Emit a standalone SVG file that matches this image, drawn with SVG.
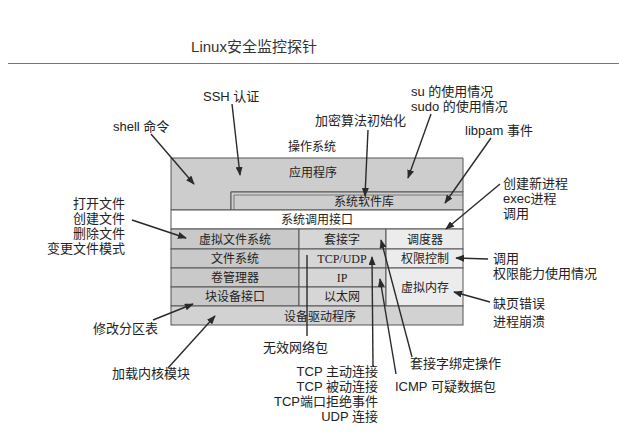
<svg xmlns="http://www.w3.org/2000/svg" width="619" height="435" viewBox="0 0 619 435">
<style>
.lbl{font-family:"Liberation Sans","Noto Sans CJK SC",sans-serif;font-size:13px;fill:#222}
.box{font-family:"Liberation Serif","Noto Sans CJK SC",serif;font-size:12px;fill:#222;text-anchor:middle}
.c{stroke:#555;stroke-width:1}
.dark{fill:#c9c9c9}
.mid{fill:#d6d6d6}
.light{fill:#ececec}
.white{fill:#ffffff}
.arr{stroke:#2a2a2a;stroke-width:1.4;fill:none;marker-end:url(#ah)}
.ln{stroke:#2a2a2a;stroke-width:1.4;fill:none}
</style>
<defs>
<marker id="ah" viewBox="0 0 10 10" refX="9" refY="5" markerUnits="userSpaceOnUse" markerWidth="9" markerHeight="7" orient="auto" preserveAspectRatio="none">
<path d="M0,0 L10,5 L0,10 z" fill="#2a2a2a"/>
</marker>
</defs>
<rect width="619" height="435" fill="#ffffff"/>
<g id="title">
<text x="254" y="52" text-anchor="middle" style="font-family:'Liberation Sans','Noto Sans CJK SC',sans-serif;font-size:15px;fill:#333">Linux安全监控探针</text>
<line x1="8" y1="63.5" x2="619" y2="63.5" stroke="#777" stroke-width="1.2"/>
</g>
<g id="os-label"><text class="box" x="312" y="151">操作系统</text></g>
<g id="app">
<path class="c" d="M171,158 H463 V192 H231 V210 H171 Z" style="fill:#cdcdcd"/>
<text class="box" x="313" y="177">应用程序</text>
</g>
<g id="syslib">
<rect class="c" x="231" y="192" width="232" height="18" style="fill:#cdcdcd"/>
<path d="M234,210 V195 H463" fill="none" stroke="#666" stroke-width="0.8"/>
<text class="box" x="364" y="206">系统软件库</text>
</g>
<g id="syscall">
<rect class="white c" x="171" y="210" width="292" height="19"/>
<text class="box" x="317" y="224">系统调用接口</text>
</g>
<g id="vfs"><rect class="dark c" x="171" y="229" width="128" height="20"/><text class="box" x="235" y="244">虚拟文件系统</text></g>
<g id="fs"><rect class="dark c" x="171" y="249" width="128" height="19"/><text class="box" x="235" y="263">文件系统</text></g>
<g id="volmgr"><rect class="dark c" x="171" y="268" width="128" height="19"/><text class="box" x="235" y="282">卷管理器</text></g>
<g id="blockdev"><rect class="dark c" x="171" y="287" width="128" height="19"/><text class="box" x="235" y="301">块设备接口</text></g>
<g id="socket"><rect class="mid c" x="299" y="229" width="87" height="20"/><text class="box" x="342" y="244">套接字</text></g>
<g id="tcpudp"><rect class="mid c" x="299" y="249" width="87" height="19"/><text class="box" x="342" y="263">TCP/UDP</text></g>
<g id="ip"><rect class="mid c" x="299" y="268" width="87" height="19"/><text class="box" x="342" y="282">IP</text></g>
<g id="ethernet"><rect class="mid c" x="299" y="287" width="87" height="19"/><text class="box" x="342" y="301">以太网</text></g>
<g id="scheduler"><rect class="light c" x="386" y="229" width="77" height="20"/><text class="box" x="425" y="244">调度器</text></g>
<g id="perm"><rect class="light c" x="386" y="249" width="77" height="19"/><text class="box" x="425" y="263">权限控制</text></g>
<g id="vmem"><rect class="light c" x="386" y="268" width="77" height="38"/><text class="box" x="425" y="292">虚拟内存</text></g>
<g id="driver"><rect class="c" x="171" y="306" width="292" height="19" style="fill:#d2d2d2"/><text class="box" x="320" y="321">设备驱动程序</text></g>

<g id="labels">
<text class="lbl" x="203" y="101">SSH 认证</text>
<text class="lbl" x="113" y="131">shell 命令</text>
<text class="lbl" x="315" y="125">加密算法初始化</text>
<text class="lbl" x="411" y="96">su 的使用情况</text>
<text class="lbl" x="411" y="111">sudo 的使用情况</text>
<text class="lbl" x="465" y="135">libpam 事件</text>
<text class="lbl" x="503" y="188">创建新进程</text>
<text class="lbl" x="503" y="203">exec进程</text>
<text class="lbl" x="503" y="218">调用</text>
<text class="lbl" x="493" y="263">调用</text>
<text class="lbl" x="493" y="278">权限能力使用情况</text>
<text class="lbl" x="493" y="308">缺页错误</text>
<text class="lbl" x="493" y="326">进程崩溃</text>
<g text-anchor="end">
<text class="lbl" x="125" y="208">打开文件</text>
<text class="lbl" x="125" y="223">创建文件</text>
<text class="lbl" x="125" y="238">删除文件</text>
<text class="lbl" x="125" y="253">变更文件模式</text>
<text class="lbl" x="378" y="376">TCP 主动连接</text>
<text class="lbl" x="378" y="391">TCP 被动连接</text>
<text class="lbl" x="378" y="406">TCP端口拒绝事件</text>
<text class="lbl" x="378" y="421">UDP 连接</text>
</g>
<text class="lbl" x="93" y="333">修改分区表</text>
<text class="lbl" x="112" y="378">加载内核模块</text>
<text class="lbl" x="263" y="352">无效网络包</text>
<text class="lbl" x="410" y="368">套接字绑定操作</text>
<text class="lbl" x="395" y="391">ICMP 可疑数据包</text>
</g>

<g id="connectors">
<line class="arr" x1="151" y1="134" x2="194" y2="184"/>
<line class="arr" x1="232" y1="104" x2="240" y2="175"/>
<line class="arr" x1="368" y1="130" x2="365" y2="196"/>
<line class="arr" x1="431" y1="114" x2="408" y2="178"/>
<line class="arr" x1="491" y1="138" x2="445" y2="203"/>
<line class="arr" x1="500" y1="184" x2="446" y2="229"/>
<line class="arr" x1="488" y1="259" x2="456" y2="258"/>
<line class="arr" x1="490" y1="302" x2="454" y2="292"/>
<line class="arr" x1="132" y1="220" x2="186" y2="238"/>
<line class="arr" x1="153" y1="320" x2="193" y2="304"/>
<line class="arr" x1="168" y1="368" x2="215" y2="316"/>
<line class="ln" x1="307" y1="255" x2="307" y2="336"/>
<line class="arr" x1="373" y1="366" x2="372" y2="257"/>
<line class="arr" x1="396" y1="374" x2="380" y2="279"/>
<line class="arr" x1="412" y1="357" x2="381" y2="240"/>
</g>
</svg>
